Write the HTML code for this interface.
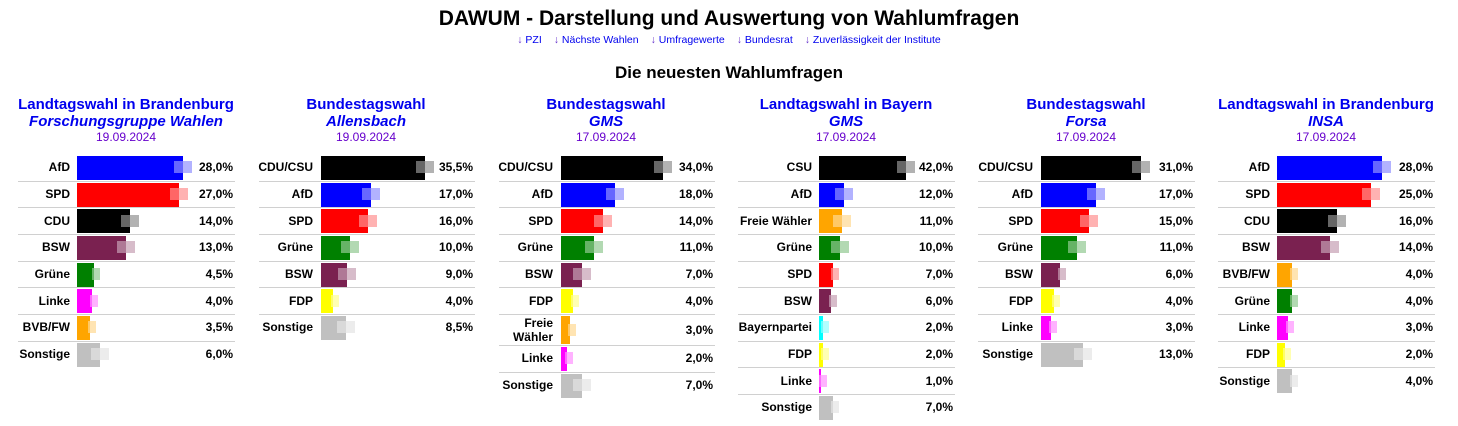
<!DOCTYPE html>
<html><head><meta charset="utf-8"><style>
body{margin:0;width:1458px;height:426px;background:#fff;font-family:"Liberation Sans",Arial,sans-serif;position:relative;overflow:hidden}
.a{position:absolute;white-space:nowrap}
h1{position:absolute;margin:0;top:7px;left:0;width:1458px;text-align:center;font-size:21px;font-weight:bold}
.links{top:34px;left:0;width:1458px;text-align:center;font-size:10.5px;color:#0000ee}
.links span{margin:0 6px}.links b{font-weight:normal;color:#6633cc}
.sub{top:63px;left:0;width:1458px;text-align:center;font-size:17px;font-weight:bold}
.t1{font-size:15px;font-weight:bold;color:#0000ee;text-align:center;width:240px}
.t2{font-style:italic}
.d{font-size:12px;color:#6600cc;text-align:center;width:240px}
.lab{font-size:12px;font-weight:bold;text-align:right;line-height:14px}
.val{font-size:12px;font-weight:bold;text-align:right}
.ln{height:1px;background:#d0d0d0}
</style></head><body>
<h1>DAWUM - Darstellung und Auswertung von Wahlumfragen</h1>
<div class="a links"><span><b>↓</b> PZI</span><span><b>↓</b> Nächste Wahlen</span><span><b>↓</b> Umfragewerte</span><span><b>↓</b> Bundesrat</span><span><b>↓</b> Zuverlässigkeit der Institute</span></div>
<div class="a sub">Die neuesten Wahlumfragen</div>
<div id="c"></div>
<script>
var C={AfD:"#0000ff",SPD:"#ff0000",CDU:"#000000","CDU/CSU":"#000000",CSU:"#000000",BSW:"#7a2150","Grüne":"#008000",Linke:"#ff00ff","BVB/FW":"#ffa500","Freie Wähler":"#ffa500",FDP:"#ffff00",Sonstige:"#c0c0c0",Bayernpartei:"#00ffff"};
var cols=[
{t:"Landtagswahl in Brandenburg",i:"Forschungsgruppe Wahlen",d:"19.09.2024",L:18,lr:70,bx:77,vr:233,s:3.79,r:[["AfD",28],["SPD",27],["CDU",14],["BSW",13],["Grüne",4.5],["Linke",4],["BVB/FW",3.5],["Sonstige",6]]},
{t:"Bundestagswahl",i:"Allensbach",d:"19.09.2024",L:259,lr:313,bx:321,vr:473,s:2.93,r:[["CDU/CSU",35.5],["AfD",17],["SPD",16],["Grüne",10],["BSW",9],["FDP",4],["Sonstige",8.5]]},
{t:"Bundestagswahl",i:"GMS",d:"17.09.2024",L:499,lr:553,bx:561,vr:713,s:3.0,r:[["CDU/CSU",34],["AfD",18],["SPD",14],["Grüne",11],["BSW",7],["FDP",4],["Freie Wähler",3],["Linke",2],["Sonstige",7]]},
{t:"Landtagswahl in Bayern",i:"GMS",d:"17.09.2024",L:738,lr:812,bx:819,vr:953,s:2.07,r:[["CSU",42],["AfD",12],["Freie Wähler",11],["Grüne",10],["SPD",7],["BSW",6],["Bayernpartei",2],["FDP",2],["Linke",1],["Sonstige",7]]},
{t:"Bundestagswahl",i:"Forsa",d:"17.09.2024",L:978,lr:1033,bx:1041,vr:1193,s:3.23,r:[["CDU/CSU",31],["AfD",17],["SPD",15],["Grüne",11],["BSW",6],["FDP",4],["Linke",3],["Sonstige",13]]},
{t:"Landtagswahl in Brandenburg",i:"INSA",d:"17.09.2024",L:1218,lr:1270,bx:1277,vr:1433,s:3.75,r:[["AfD",28],["SPD",25],["CDU",16],["BSW",14],["BVB/FW",4],["Grüne",4],["Linke",3],["FDP",2],["Sonstige",4]]}];
var h="";
cols.forEach(function(c,k){
var cx=126+240*k;
h+='<div class="a t1" style="left:'+(cx-120)+'px;top:96px">'+c.t+'</div>';
h+='<div class="a t1 t2" style="left:'+(cx-120)+'px;top:113px">'+c.i+'</div>';
h+='<div class="a d" style="left:'+(cx-120)+'px;top:130px">'+c.d+'</div>';
var y=154;
c.r.forEach(function(r,j){
var two=(r[0]=="Freie Wähler"&&k==2), rh=two?31:26.67;
var w=Math.round(r[1]*c.s), col=C[r[0]];
var bt=Math.round(y+2), bh=Math.round(rh-3);
var mw=w>20?18:8, ml=w>20?c.bx+w-9:c.bx+w-2;
var mt=Math.round(y+rh/2-6);
h+='<div class="a" style="left:'+ml+'px;top:'+mt+'px;width:'+mw+'px;height:12px;background:'+col+';opacity:.3"></div>';
h+='<div class="a" style="left:'+c.bx+'px;top:'+bt+'px;width:'+w+'px;height:'+bh+'px;background:'+col+'"></div>';
h+='<div class="a" style="left:'+ml+'px;top:'+mt+'px;width:'+Math.min(mw,c.bx+w-ml)+'px;height:12px;background:rgba(255,255,255,.4)"></div>';
var lab=two?'Freie<br>Wähler':r[0];
var lt=two?y+2:y+rh/2-7;
h+='<div class="a lab" style="left:'+(c.lr-150)+'px;width:150px;top:'+lt+'px">'+lab+'</div>';
h+='<div class="a val" style="left:'+(c.vr-60)+'px;width:60px;top:'+(y+rh/2-7)+'px">'+r[1].toFixed(1).replace(".",",")+'%</div>';
y+=rh;
if(j<c.r.length-1)h+='<div class="a ln" style="left:'+c.L+'px;width:'+(c.vr-c.L+2)+'px;top:'+Math.round(y)+'px"></div>';
});
});
document.getElementById("c").innerHTML=h;
</script>
</body></html>
